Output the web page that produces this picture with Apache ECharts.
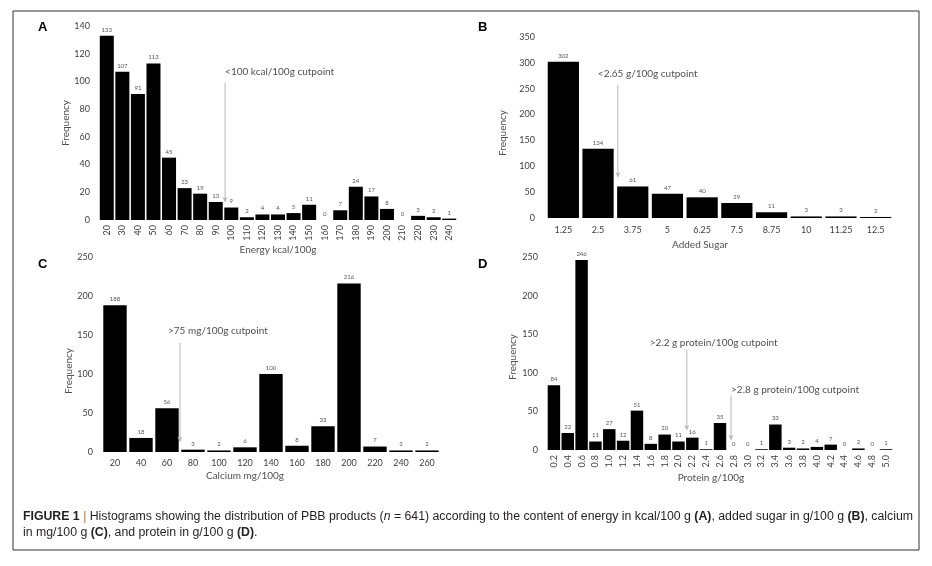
<!DOCTYPE html>
<html>
<head>
<meta charset="utf-8">
<script src="https://cdn.jsdelivr.net/npm/echarts@6/dist/echarts.min.js"></script>
<style>
html,body{margin:0;padding:0;background:#fff;}
#chart{width:932px;height:566px;}
</style>
</head>
<body>
<div id="chart"></div>
<script>
// ---------- data ----------
const energyBins = ['20','30','40','50','60','70','80','90','100','110','120','130','140','150','160','170','180','190','200','210','220','230','240'];
const energyFreq = [133,107,91,113,45,23,19,13,9,2,4,4,5,11,0,7,24,17,8,0,3,2,1];

const sugarBins = ['1.25','2.5','3.75','5','6.25','7.5','8.75','10','11.25','12.5'];
const sugarFreq = [302,134,61,47,40,29,11,3,3,2];

const calciumBins = ['20','40','60','80','100','120','140','160','180','200','220','240','260'];
const calciumFreq = [188,18,56,3,2,6,100,8,33,216,7,2,2];

const proteinBins = ['0.2','0.4','0.6','0.8','1.0','1.2','1.4','1.6','1.8','2.0','2.2','2.4','2.6','2.8','3.0','3.2','3.4','3.6','3.8','4.0','4.2','4.4','4.6','4.8','5.0'];
const proteinFreq = [84,22,246,11,27,12,51,8,20,11,16,1,35,0,0,1,33,3,2,4,7,0,2,0,1];

// cutpoint markers: [position along bins (0..n), top value, bottom value]
const cutEnergy   = [8.1, 99, 13];
const cutSugar    = [2.07, 257, 79];
const cutCalcium  = [3.0, 140, 13];
const cutProtein1 = [10.1, 130, 26];
const cutProtein2 = [13.3, 71, 13];
const cutTexts = ['<100 kcal/100g cutpoint','<2.65 g/100g cutpoint','>75 mg/100g cutpoint','>2.2 g protein/100g cutpoint','>2.8 g protein/100g cutpoint'];

const yMax = [140, 350, 250, 250];
const yStep = [20, 50, 50, 50];
const xNames = ['Energy kcal/100g','Added Sugar','Calcium mg/100g','Protein g/100g'];

// ---------- layout / style ----------
const FONT = 'Lato, "Open Sans", sans-serif';
const CAPFONT = '"Liberation Sans", Arial, sans-serif';
const grids = [
  {left:99, top:26, width:358, height:194},
  {left:546, top:37, width:347, height:181},
  {left:102, top:257, width:338, height:195},
  {left:547, top:257, width:346, height:193}
];
const xRotate = [90, 0, 0, 90];
const xLabelMargin = [5, 8, 7, 5];
const xNameGap = [25, 22, 19, 23];
const xNamePad = [[0,0,0,0],[0,39,0,0],[0,52,0,0],[0,18,0,0]];
const yNameGap = [26, 38, 25, 29];
const yNamePad = [[0,0,0,0],[0,11,0,0],[0,33,0,0],[0,7,0,0]];
const yLabelMargin = [9, 11, 9, 9];

const binsList = [energyBins, sugarBins, calciumBins, proteinBins];
const freqList = [energyFreq, sugarFreq, calciumFreq, proteinFreq];

const xAxes = [], yAxes = [], series = [];
for (let i = 0; i < 4; i++) {
  xAxes.push({
    type:'category', gridIndex:i, data:binsList[i],
    axisLine:{show:false}, axisTick:{show:false},
    axisLabel:{rotate:xRotate[i], margin:xLabelMargin[i], fontSize:9, color:'#404040', fontFamily:FONT, interval:0},
    name:xNames[i], nameLocation:'middle', nameGap:xNameGap[i],
    nameTextStyle:{fontSize:10, color:'#505050', fontFamily:FONT, padding:xNamePad[i]}
  });
  yAxes.push({
    type:'value', gridIndex:i, min:0, max:yMax[i], interval:yStep[i],
    axisLine:{show:false}, axisTick:{show:false}, splitLine:{show:false},
    axisLabel:{fontSize:9, color:'#404040', fontFamily:FONT, margin:yLabelMargin[i]},
    name:'Frequency', nameLocation:'middle', nameGap:yNameGap[i],
    nameTextStyle:{fontSize:10, color:'#505050', fontFamily:FONT, padding:yNamePad[i]}
  });
  series.push({
    type:'bar', xAxisIndex:i, yAxisIndex:i, data:freqList[i],
    barCategoryGap:'10%',
    itemStyle:{color:'#000'},
    label:{show:true, position:'top', distance:3, fontSize:6, color:'#555', fontFamily:FONT}
  });
}
// hidden value axes for cutpoint markers
for (let i = 0; i < 4; i++) {
  xAxes.push({type:'value', gridIndex:i, min:0, max:binsList[i].length, show:false});
}
const cuts = [
  {c:cutEnergy, g:0, t:cutTexts[0], dx:0, dist:6},
  {c:cutSugar, g:1, t:cutTexts[1], dx:-20, dist:6},
  {c:cutCalcium, g:2, t:cutTexts[2], dx:-12, dist:7},
  {c:cutProtein1, g:3, t:cutTexts[3], dx:-37, dist:1},
  {c:cutProtein2, g:3, t:cutTexts[4], dx:0, dist:0}
];
cuts.forEach(k => {
  // vertical cutpoint line with arrow head
  series.push({
    type:'line', xAxisIndex:4 + k.g, yAxisIndex:k.g,
    lineStyle:{color:'#b8b8c0', width:1},
    itemStyle:{color:'#b8b8c0'},
    symbol:'none', silent:true,
    data:[
      {value:[k.c[0], k.c[1]]},
      {value:[k.c[0], k.c[2]], symbol:'arrow', symbolSize:[4,5], symbolRotate:180}
    ]
  });
  // annotation text anchored at the top of the line
  series.push({
    type:'scatter', xAxisIndex:4 + k.g, yAxisIndex:k.g,
    symbolSize:1, silent:true,
    itemStyle:{color:'rgba(0,0,0,0)'},
    label:{show:true, formatter:k.t, position:'top', align:'left', offset:[k.dx,0], distance:k.dist, fontSize:10, color:'#222', fontFamily:FONT},
    data:[[k.c[0], k.c[1]]]
  });
});

const chart = echarts.init(document.getElementById('chart'), null, {renderer:'canvas'});
chart.setOption({
  animation:false,
  backgroundColor:'#fff',
  grid:grids,
  xAxis:xAxes,
  yAxis:yAxes,
  series:series,
  graphic:[
    {type:'rect', shape:{x:13, y:11, width:906, height:539}, style:{fill:'none', stroke:'#333', lineWidth:1}},
    {type:'text', x:38, y:21, style:{text:'A', font:'bold 13px "Liberation Sans", Arial, sans-serif', fill:'#000'}},
    {type:'text', x:478, y:21, style:{text:'B', font:'bold 13px "Liberation Sans", Arial, sans-serif', fill:'#000'}},
    {type:'text', x:38, y:258, style:{text:'C', font:'bold 13px "Liberation Sans", Arial, sans-serif', fill:'#000'}},
    {type:'text', x:478, y:258, style:{text:'D', font:'bold 13px "Liberation Sans", Arial, sans-serif', fill:'#000'}},
    {type:'text', x:23, y:517, style:{
      text:'{b|FIGURE 1} {bar||} Histograms showing the distribution of PBB products ({i|n} = 641) according to the content of energy in kcal/100 g {b|(A)}, added sugar in g/100 g {b|(B)}, calcium',
      verticalAlign:'middle', fill:'#231f20',
      font:'12.3px ' + CAPFONT,
      rich:{
        b:{fontWeight:'bold', fontSize:12.3, fontFamily:CAPFONT, fill:'#231f20'},
        i:{fontStyle:'italic', fontSize:12.3, fontFamily:CAPFONT, fill:'#231f20'},
        bar:{fontSize:12.3, fill:'#b07a2a', fontFamily:CAPFONT}
      }
    }},
    {type:'text', x:23, y:533, style:{
      text:'in mg/100 g {b|(C)}, and protein in g/100 g {b|(D)}.',
      verticalAlign:'middle', fill:'#231f20',
      font:'12.3px ' + CAPFONT,
      rich:{
        b:{fontWeight:'bold', fontSize:12.3, fontFamily:CAPFONT, fill:'#231f20'}
      }
    }}
  ]
});
</script>
</body>
</html>
